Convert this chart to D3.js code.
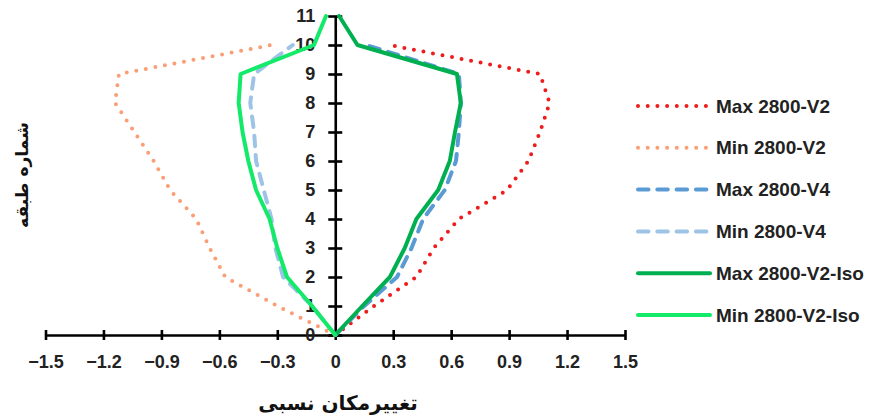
<!DOCTYPE html>
<html lang="fa">
<head>
  <meta charset="UTF-8" />
  <title>Drift</title>
  <script src="https://d3js.org/d3.v7.min.js"></script>
  <style>
    body { margin: 0; background: #fff; }
    svg { display: block; }
    .tick text { font-family: 'Liberation Sans', Arial, sans-serif; font-weight: bold; font-size: 18px; fill: #222; }
    .legend text { font-family: 'Liberation Sans', Arial, sans-serif; font-weight: bold; font-size: 19px; fill: #222; }
    .title { font-family: 'DejaVu Sans', sans-serif; font-weight: bold; font-size: 17px; fill: #111; }
  </style>
</head>
<body>
  <svg id="chart" width="870" height="417"></svg>

  <script>
    // داده ها - طبقات و تغییرمکان نسبی
    const floors = [0, 1, 2, 3, 4, 5, 6, 7, 8, 9, 10, 11];
    const maxV2 = [0, 0.20, 0.42, 0.51, 0.64, 0.89, 1.00, 1.06, 1.11, 1.06, 0.28];
    const minV2 = [0, -0.30, -0.57, -0.65, -0.72, -0.855, -0.94, -1.04, -1.14, -1.12, -0.33];
    const maxV4 = [0, 0.15, 0.32, 0.395, 0.455, 0.567, 0.625, 0.64, 0.65, 0.64, 0.16];
    const minV4 = [0, -0.12, -0.27, -0.31, -0.33, -0.37, -0.41, -0.42, -0.44, -0.42, -0.22];
    const maxIso = [0, 0.14, 0.283, 0.36, 0.42, 0.533, 0.593, 0.62, 0.65, 0.63, 0.115, 0.02];
    const minIso = [0, -0.12, -0.25, -0.30, -0.34, -0.41, -0.45, -0.48, -0.50, -0.49, -0.11, -0.048];

    const xTicks = [-1.5, -1.2, -0.9, -0.6, -0.3, 0, 0.3, 0.6, 0.9, 1.2, 1.5];
    const yTicks = [0, 1, 2, 3, 4, 5, 6, 7, 8, 9, 10, 11];
    const seriesNames = ["Max 2800-V2", "Min 2800-V2", "Max 2800-V4", "Min 2800-V4", "Max 2800-V2-Iso", "Min 2800-V2-Iso"];
    const xTitle = "تغییرمکان نسبی";
    const yTitle = "شماره طبقه";

    const styles = [
      { color: "#ee1c1c", width: 4, dash: "0,9.7", cap: "round" },
      { color: "#fa9e76", width: 4, dash: "0,9.7", cap: "round" },
      { color: "#5b9bd5", width: 4, dash: "10.5,8.8", cap: "round" },
      { color: "#9dc3e6", width: 4, dash: "10.5,8.8", cap: "round" },
      { color: "#00b050", width: 4, dash: null, cap: "round" },
      { color: "#14ea6a", width: 4, dash: null, cap: "round" }
    ];
    const values = [maxV2, minV2, maxV4, minV4, maxIso, minIso];

    const svg = d3.select("#chart");
    const x = d3.scaleLinear().domain([-1.5, 1.5]).range([45.5, 625]);
    const y = d3.scaleLinear().domain([0, 11]).range([335, 16]);

    // محور افقی
    const gx = svg.append("g").attr("transform", `translate(0,${y(0)})`)
      .call(d3.axisBottom(x).tickValues(xTicks).tickSize(0).tickPadding(20).tickFormat(d => d === 0 ? "0" : d3.format(".1f")(d)));
    gx.select(".domain").attr("stroke", "#000").attr("stroke-width", 2.6);
    gx.selectAll(".tick line").attr("y1", -5).attr("y2", 5).attr("stroke", "#000").attr("stroke-width", 2.6);

    // محور عمودی
    const gy = svg.append("g").attr("transform", `translate(${x(0)},0)`)
      .call(d3.axisLeft(y).tickValues(yTicks).tickSize(0).tickPadding(20));
    gy.select(".domain").attr("stroke", "#000").attr("stroke-width", 2.6);
    gy.selectAll(".tick line").attr("x1", -7).attr("x2", 7).attr("stroke", "#000").attr("stroke-width", 2.6);

    // خطوط
    const line = d3.line().x(d => x(d.v)).y(d => y(d.f));
    values.forEach((arr, i) => {
      const st = styles[i];
      svg.append("path")
        .datum(arr.map((v, j) => ({ v: v, f: floors[j] })))
        .attr("fill", "none")
        .attr("stroke", st.color)
        .attr("stroke-width", st.width)
        .attr("stroke-linecap", st.cap)
        .attr("stroke-linejoin", "round")
        .attr("stroke-dasharray", st.dash)
        .attr("d", line);
    });

    // راهنما
    const lg = svg.append("g").attr("class", "legend");
    const rowY = d3.scaleLinear().domain([0, 5]).range([106, 315]);
    seriesNames.forEach((name, i) => {
      const st = styles[i];
      const yy = rowY(i);
      lg.append("line")
        .attr("x1", 638).attr("x2", 710).attr("y1", yy).attr("y2", yy)
        .attr("stroke", st.color).attr("stroke-width", st.width)
        .attr("stroke-linecap", st.cap).attr("stroke-dasharray", st.dash);
      lg.append("text").attr("x", 716).attr("y", yy).attr("dy", "0.35em").text(name);
    });

    // عناوین محورها
    svg.append("text").attr("class", "title")
      .attr("x", 338).attr("y", 403).attr("dy", "0.35em")
      .style("font-size", "20px")
      .attr("text-anchor", "middle").text(xTitle);
    svg.append("text").attr("class", "title")
      .attr("transform", "translate(22,175) rotate(-90)")
      .attr("dy", "0.35em")
      .attr("text-anchor", "middle").text(yTitle);
  </script>
</body>
</html>
